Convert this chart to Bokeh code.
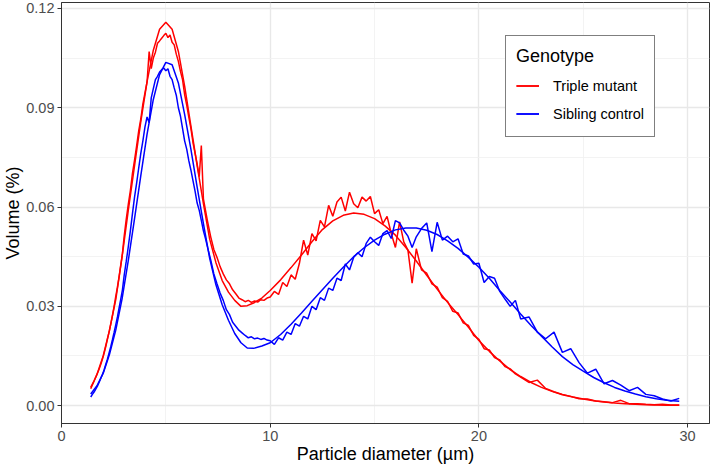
from bokeh.plotting import figure
from bokeh.models import Range1d, FixedTicker, Legend, LegendItem, PrintfTickFormatter
from bokeh.embed import file_html
from bokeh.resources import INLINE

# ---------------- data ----------------
raw_x = [
    1.40, 1.48, 1.56, 1.64, 1.72, 1.80, 1.88, 1.96, 2.04, 2.12,
    2.20, 2.28, 2.36, 2.44, 2.52, 2.60, 2.68, 2.76, 2.84, 2.92,
    3.0, 3.1, 3.2, 3.3, 3.4, 3.5, 3.6, 3.7, 3.8, 3.9,
    4.0, 4.1, 4.2, 4.3, 4.4, 4.5, 4.6, 4.7, 4.8, 4.9,
    5.0, 5.1, 5.2, 5.3, 5.4, 5.5, 5.6, 5.7, 5.8, 5.9,
    6.0, 6.1, 6.2, 6.3, 6.4, 6.5, 6.6, 6.7, 6.8, 6.9,
    7.00, 7.15, 7.30, 7.45, 7.60, 7.75, 7.90, 8.05, 8.20, 8.35,
    8.50, 8.65, 8.80, 8.95, 9.10, 9.25, 9.40, 9.55, 9.70, 9.85,
    10.0, 10.2, 10.4, 10.6, 10.8, 11.0, 11.2, 11.4, 11.6, 11.8,
    12.0, 12.2, 12.4, 12.6, 12.8, 13.0, 13.2, 13.4, 13.6, 13.8,
    14.0, 14.2, 14.4, 14.6, 14.8, 15.0, 15.2, 15.4, 15.6, 15.8,
    16.0, 16.2, 16.4, 16.6, 16.8,
    17.00, 17.25, 17.50, 17.75, 18.00, 18.25, 18.50, 18.75, 19.00, 19.25,
    19.50, 19.75, 20.00, 20.25, 20.50, 20.75, 21.00, 21.25, 21.50, 21.75,
    22.0, 22.4, 22.8, 23.2, 23.6, 24.0, 24.4, 24.8, 25.2, 25.6,
    26.0, 26.4, 26.8, 27.2, 27.6, 28.0, 28.4, 28.8, 29.2, 29.6,
]

red_raw = [
    .0055, .0065, .0075, .0086, .0098, .0110, .0124, .0140, .0158, .0178,
    .0200, .0222, .0246, .0272, .0300, .0330, .0358, .0390, .0425, .0460,
    .0510, .0562, .0608, .0650, .0702, .0742, .0785, .0830, .0866, .0912,
    .0945, .0978, .1070, .1018, .1050, .1068, .1095, .1102, .1110, .1118,
    .1125, .1112, .1120, .1098, .1090, .1062, .1040, .1010, .0985, .0940,
    .0908, .0872, .0838, .0795, .0762, .0730, .0692, .0786, .0625, .0590,
    .0556, .0510, .0472, .0448, .0420, .0398, .0380, .0368, .0350, .0338,
    .0325, .0320, .0314, .0318, .0312, .0316, .0313, .0320, .0318, .0325,
    .0328, .0345, .0336, .0372, .0360, .0395, .0382, .0430, .0500, .0455,
    .0520, .0498, .0560, .0540, .0605, .0572, .0615, .0630, .0588, .0645,
    .0610, .0598, .0630, .0618, .0632, .0580, .0592, .0550, .0572, .0520,
    .0478, .0555, .0495, .0470, .0370,
    .0474, .0410, .0400, .0368, .0358, .0326, .0315, .0285, .0280, .0250,
    .0242, .0212, .0200, .0172, .0168, .0145, .0138, .0118, .0111, .0096,
    .0086, .0070, .0077, .0052, .0042, .0034, .0028, .0021, .0020, .0014,
    .0012, .0009, .0016, .0006, .0006, .0004, .0003, .0004, .0002, .0002,
]

blue_raw = [
    .0026, .0034, .0041, .0050, .0059, .0070, .0082, .0094, .0108, .0124,
    .0140, .0159, .0178, .0199, .0221, .0244, .0268, .0295, .0322, .0350,
    .0392, .0435, .0480, .0528, .0580, .0630, .0672, .0718, .0762, .0800,
    .0842, .0872, .0855, .0930, .0958, .0985, .0995, .1008, .1015, .1020,
    .1012, .1018, .0995, .0985, .0960, .0938, .0900, .0875, .0838, .0800,
    .0775, .0740, .0712, .0680, .0648, .0612, .0590, .0560, .0528, .0505,
    .0478, .0440, .0398, .0368, .0340, .0318, .0290, .0275, .0252, .0240,
    .0228, .0220, .0212, .0205, .0208, .0202, .0204, .0200, .0203, .0198,
    .0196, .0185, .0205, .0198, .0222, .0215, .0248, .0240, .0270, .0262,
    .0300, .0290, .0326, .0318, .0355, .0348, .0385, .0378, .0428, .0410,
    .0448, .0462, .0450, .0490, .0509, .0495, .0484, .0520, .0529, .0505,
    .0559, .0552, .0530, .0512, .0478,
    .0510, .0535, .0552, .0465, .0554, .0500, .0512, .0495, .0504, .0458,
    .0452, .0428, .0430, .0372, .0390, .0385, .0345, .0322, .0300, .0318,
    .0262, .0268, .0222, .0202, .0222, .0161, .0172, .0130, .0098, .0110,
    .0066, .0076, .0062, .0045, .0055, .0034, .0030, .0020, .0014, .0022,
]

fit_x = [
    1.4, 1.7, 2.0, 2.3, 2.6, 2.9, 3.2, 3.5, 3.8, 4.1,
    4.4, 4.7, 5.0, 5.3, 5.6, 5.9, 6.2, 6.5, 6.8, 7.1,
    7.4, 7.7, 8.0, 8.3, 8.6, 8.9, 9.2, 9.6,
    10.0, 10.5, 11.0, 11.5, 12.0, 12.5, 13.0, 13.5, 14.0, 14.5,
    15.0, 15.5, 16.0, 16.5, 17.0, 17.5, 18.0, 18.5, 19.0, 19.5,
    20.0, 20.5, 21.0, 21.5, 22.0, 22.5, 23.0, 23.5, 24.0, 24.5,
    25.0, 25.5, 26.0, 26.5, 27.0, 27.5, 28.0, 28.5, 29.0, 29.6,
]

red_fit = [
    .0051, .0094, .0151, .0228, .0320, .0448, .0590, .0725, .0858, .0979,
    .1074, .1137, .1158, .1137, .1070, .0965, .0845, .0725, .0610, .0503,
    .0432, .0378, .0343, .0318, .0300, .0302, .0310, .0325,
    .0348, .0380, .0417, .0455, .0495, .0532, .0558, .0575, .0582, .0578,
    .0565, .0543, .0515, .0478, .0437, .0394, .0352, .0312, .0275, .0237,
    .0197, .0164, .0135, .0109, .0088, .0070, .0055, .0043, .0033, .0026,
    .0020, .0015, .0011, .0008, .0006, .0004, .0003, .0002, .00015, .0001,
]

blue_fit = [
    .0035, .0060, .0098, .0155, .0228, .0322, .0438, .0565, .0695, .0820,
    .0925, .1000, .1037, .1030, .0975, .0880, .0775, .0660, .0550, .0445,
    .0365, .0305, .0258, .0218, .0190, .0174, .0173, .0180,
    .0190, .0215, .0246, .0280, .0315, .0350, .0385, .0418, .0450, .0477,
    .0500, .0518, .0531, .0537, .0537, .0530, .0517, .0498, .0475, .0448,
    .0418, .0385, .0348, .0313, .0277, .0242, .0210, .0178, .0148, .0124,
    .0104, .0085, .0069, .0055, .0044, .0035, .0027, .0021, .0016, .0013,
]

x_ticks = [0, 10, 20, 30]
x_minor = [5, 15, 25]
y_ticks = [0.0, 0.03, 0.06, 0.09, 0.12]
y_minor = [0.015, 0.045, 0.075, 0.105]
genotypes = ["Triple mutant", "Sibling control"]
colors = ["#ff0000", "#0000ff"]
x_title = "Particle diameter (µm)"
y_title = "Volume (%)"

FONT = "Liberation Sans"

p = figure(width=711, height=470,
           x_range=Range1d(0, 31.05), y_range=Range1d(-0.0054, 0.1218),
           output_backend="svg", toolbar_location=None,
           min_border_left=61, min_border_right=2, min_border_top=2,
           min_border_bottom=47)

p.background_fill_color = "white"
p.border_fill_color = "white"
p.outline_line_color = "#333333"
p.outline_line_width = 1

# grid
p.xgrid.ticker = FixedTicker(ticks=x_ticks, minor_ticks=x_minor)
p.ygrid.ticker = FixedTicker(ticks=y_ticks, minor_ticks=y_minor)
for g in (p.xgrid, p.ygrid):
    g.grid_line_color = "#e8e8e8"
    g.grid_line_width = 1.4
    g.minor_grid_line_color = "#f0f0f0"
    g.minor_grid_line_width = 0.8

# axes
p.xaxis.ticker = FixedTicker(ticks=x_ticks)
p.yaxis.ticker = FixedTicker(ticks=y_ticks)
p.yaxis.formatter = PrintfTickFormatter(format="%.2f")
p.xaxis.axis_label = x_title
p.yaxis.axis_label = y_title
for ax in (p.xaxis, p.yaxis):
    ax.axis_line_color = "#333333"
    ax.axis_line_width = 1
    ax.major_tick_line_color = "#333333"
    ax.major_tick_out = 4
    ax.major_tick_in = 0
    ax.minor_tick_line_color = None
    ax.major_label_text_font = FONT
    ax.major_label_text_font_size = "14.5px"
    ax.major_label_text_color = "#4d4d4d"
    ax.axis_label_text_font = FONT
    ax.axis_label_text_font_size = "18px"
    ax.axis_label_text_font_style = "normal"
    ax.axis_label_text_color = "black"
    ax.major_label_standoff = 3
    ax.axis_label_standoff = 0

# lines
r_raw = p.line(raw_x, red_raw, line_color=colors[0], line_width=1.5)
r_fit = p.line(fit_x, red_fit, line_color=colors[0], line_width=1.5)
b_raw = p.line(raw_x, blue_raw, line_color=colors[1], line_width=1.5)
b_fit = p.line(fit_x, blue_fit, line_color=colors[1], line_width=1.5)

legend = Legend(
    items=[LegendItem(label=genotypes[0], renderers=[r_raw, r_fit]),
           LegendItem(label=genotypes[1], renderers=[b_raw, b_fit])],
    title="Genotype", location=(444, 286))
legend.title_text_font = FONT
legend.title_text_font_size = "18px"
legend.title_text_font_style = "normal"
legend.title_text_color = "black"
legend.title_standoff = 6
legend.label_text_font = FONT
legend.label_text_font_size = "14.5px"
legend.label_text_color = "black"
legend.border_line_color = "black"
legend.border_line_width = 1.3
legend.background_fill_color = "white"
legend.background_fill_alpha = 1
legend.padding = 10
legend.spacing = 3
legend.margin = 0
legend.glyph_width = 23
legend.glyph_height = 25
legend.label_height = 25
legend.label_standoff = 14
p.add_layout(legend)

open("out.html", "w").write(file_html(p, INLINE))
